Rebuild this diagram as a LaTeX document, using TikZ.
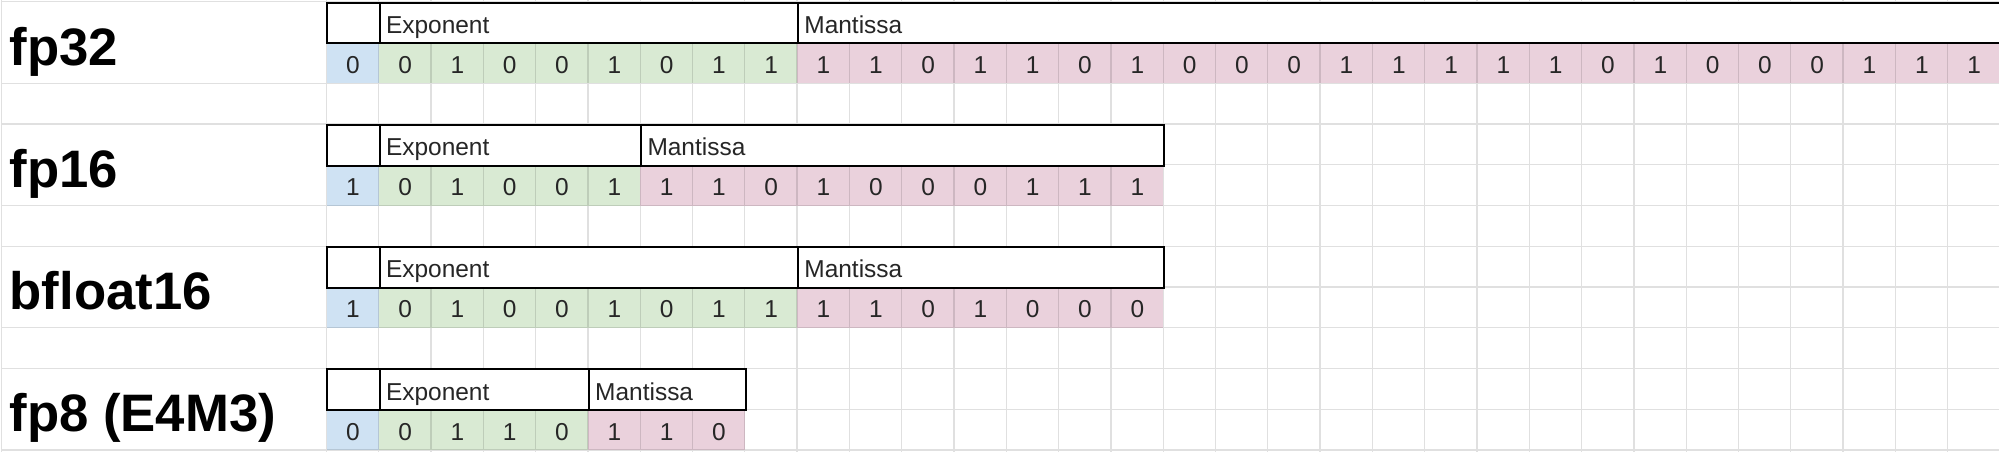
\documentclass[tikz,border=0pt]{standalone}
\usepackage{fontspec}
\setmainfont{Liberation Sans}
\usepackage{xcolor}
\usetikzlibrary{positioning}

\definecolor{signblue}{HTML}{CFE2F3}
\definecolor{expgreen}{HTML}{D9EAD3}
\definecolor{manpink}{HTML}{EAD1DC}

\begin{document}
\begin{tikzpicture}[
    x=1.3075cm, y=-1.01875cm,
    cell/.style={
        rectangle, fill=#1, inner sep=0pt, anchor=north west,
        minimum width=1.3075cm, minimum height=1.01875cm,
        text height=14.7pt, text depth=0pt, text=black!85,
        font=\fontsize{17.4}{20}\selectfont
    },
    hdr/.style={
        rectangle, draw=black, line width=1.4pt, fill=white, anchor=north west,
        minimum height=1.01875cm, inner xsep=4.5pt, inner ysep=0pt,
        text width=#1, align=left, text height=14.7pt, text depth=0pt,
        text=black!85, font=\fontsize{17.4}{20}\selectfont
    },
    fmt/.style={anchor=base west, inner sep=0pt, font=\fontsize{37.5}{45}\selectfont\bfseries},
    grid line/.style={black, opacity=0.12, line width=0.9pt},
]
\useasboundingbox (-6.2409,-0.0417) rectangle (31.981,11.026);

% fp32 bits
\node[cell=signblue] (fp32-s) at (0,1) {0};
\foreach \b [count=\i] in {0,1,0,0,1,0,1,1}
    \node[cell=expgreen] (fp32-e\i) at (\i,1) {\b};
\foreach \b [count=\i] in {1,1,0,1,1,0,1,0,0,0,1,1,1,1,1,0,1,0,0,0,1,1,1}
    \node[cell=manpink] (fp32-m\i) at (8+\i,1) {\b};

% fp16 bits
\node[cell=signblue] (fp16-s) at (0,4) {1};
\foreach \b [count=\i] in {0,1,0,0,1}
    \node[cell=expgreen] (fp16-e\i) at (\i,4) {\b};
\foreach \b [count=\i] in {1,1,0,1,0,0,0,1,1,1}
    \node[cell=manpink] (fp16-m\i) at (5+\i,4) {\b};

% bfloat16 bits
\node[cell=signblue] (bf16-s) at (0,7) {1};
\foreach \b [count=\i] in {0,1,0,0,1,0,1,1}
    \node[cell=expgreen] (bf16-e\i) at (\i,7) {\b};
\foreach \b [count=\i] in {1,1,0,1,0,0,0}
    \node[cell=manpink] (bf16-m\i) at (8+\i,7) {\b};

% fp8 bits
\node[cell=signblue] (fp8-s) at (0,10) {0};
\foreach \b [count=\i] in {0,1,1,0}
    \node[cell=expgreen] (fp8-e\i) at (\i,10) {\b};
\foreach \b [count=\i] in {1,1,0}
    \node[cell=manpink] (fp8-m\i) at (4+\i,10) {\b};

% Sheet grid
\draw[grid line]
    \foreach \c in {0,...,32} { (\c,-0.05) -- (\c,11.05) }
    \foreach \r in {0,...,11} { (0,\r) -- (32.1,\r) }
    \foreach \r in {0,2,3,5,6,8,9,11} { (-6.208,\r) -- (0,\r) }
    (-6.208,-0.05) -- (-6.208,11.05);

% Field headers
\node[hdr=28.2pt] (fp32-sh) at (0,0) {};
\node[hdr=288.6pt] (fp32-exp) at (1,0) {Exponent};
\node[hdr=846.6pt] (fp32-man) at (9,0) {Mantissa};

\node[hdr=28.2pt] (fp16-sh) at (0,3) {};
\node[hdr=177pt] (fp16-exp) at (1,3) {Exponent};
\node[hdr=363pt] (fp16-man) at (6,3) {Mantissa};

\node[hdr=28.2pt] (bf16-sh) at (0,6) {};
\node[hdr=288.6pt] (bf16-exp) at (1,6) {Exponent};
\node[hdr=251.4pt] (bf16-man) at (9,6) {Mantissa};

\node[hdr=28.2pt] (fp8-sh) at (0,9) {};
\node[hdr=139.8pt] (fp8-exp) at (1,9) {Exponent};
\node[hdr=102.6pt] (fp8-man) at (5,9) {Mantissa};

% Format names
\node[fmt] (fp32) at (-6.063,1.555) {fp32};
\node[fmt] (fp16) at (-6.063,4.555) {fp16};
\node[fmt] (bf16) at (-6.063,7.555) {bfloat16};
\node[fmt] (fp8) at (-6.063,10.555) {fp8 (E4M3)};
\end{tikzpicture}
\end{document}
